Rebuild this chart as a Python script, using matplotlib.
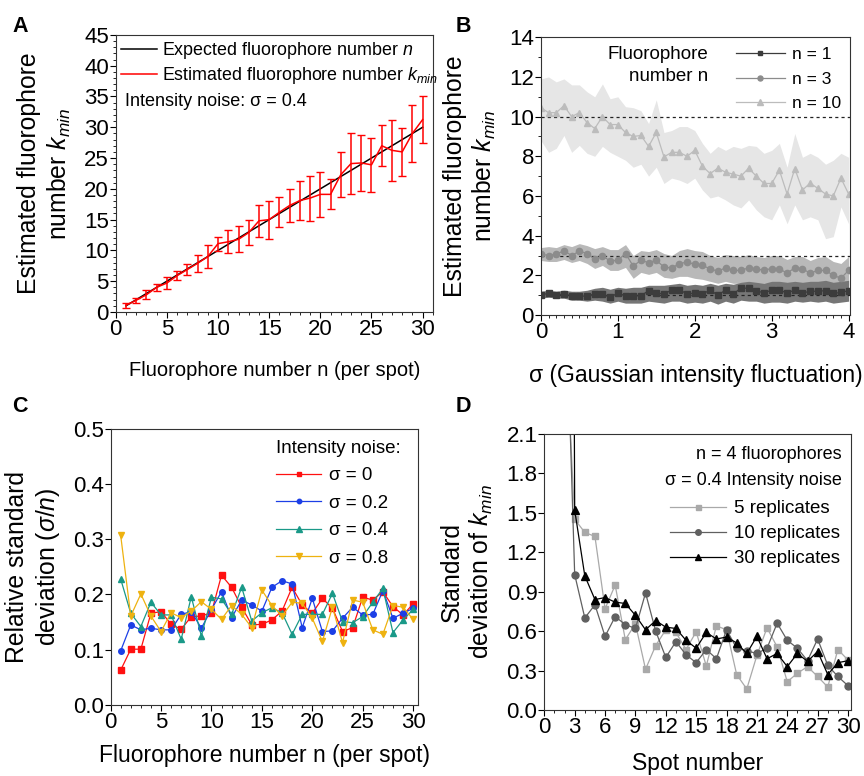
import matplotlib
matplotlib.use("Agg")
import matplotlib.pyplot as plt
from matplotlib.ticker import MultipleLocator, FormatStrFormatter

plt.rcParams["font.family"] = ["Liberation Sans", "DejaVu Sans"]
plt.rcParams["mathtext.fontset"] = "custom"
plt.rcParams["mathtext.rm"] = "Liberation Sans"
plt.rcParams["mathtext.it"] = "Liberation Sans:italic"

# ---- panel A data ----
a_n = list(range(1, 31))
a_kmin = [1.1, 1.9, 2.8, 4.0, 4.7, 5.9, 6.9, 7.9, 9.0, 11.1, 11.4, 11.8, 12.9, 14.8, 15.0,
          16.2, 17.3, 18.1, 18.5, 19.1, 19.1, 22.3, 24.1, 24.2, 23.9, 27.0, 26.25, 26.0, 29.0, 31.25]
a_err = [0.4, 0.4, 0.7, 0.6, 1.0, 0.75, 0.95, 1.35, 1.9, 1.15, 1.85, 2.1, 2.1, 2.65, 3.1,
         2.4, 2.75, 3.1, 3.65, 3.65, 2.45, 3.65, 5.0, 4.6, 4.4, 3.3, 5.0, 3.95, 4.65, 3.8]

# ---- panel B data ----
b_sigma = [round(0.1 * i, 1) for i in range(41)]
b_n1 = [1.02, 1.09, 1.0, 1.06, 0.97, 0.94, 0.97, 1.06, 1.06, 0.89, 1.11, 0.97, 0.97, 0.97, 1.23,
        1.11, 1.06, 1.26, 1.28, 1.06, 1.11, 1.06, 1.26, 1.0, 1.26, 1.06, 1.36, 1.35, 1.23, 1.11,
        1.26, 1.26, 1.11, 1.26, 1.11, 1.2, 1.2, 1.23, 1.09, 1.14, 1.23]
b_n1_up = [1.2, 1.25, 1.2, 1.25, 1.2, 1.2, 1.25, 1.35, 1.4, 1.3, 1.4, 1.35, 1.4, 1.4, 1.5,
           1.5, 1.5, 1.55, 1.6, 1.5, 1.55, 1.5, 1.6, 1.5, 1.6, 1.55, 1.65, 1.7, 1.65, 1.6,
           1.7, 1.7, 1.65, 1.7, 1.65, 1.7, 1.7, 1.75, 1.65, 1.7, 1.75]
b_n1_lo = [0.85, 0.9, 0.85, 0.85, 0.75, 0.75, 0.7, 0.75, 0.7, 0.6, 0.7, 0.6, 0.6, 0.6, 0.7,
           0.65, 0.6, 0.7, 0.7, 0.6, 0.65, 0.6, 0.7, 0.55, 0.7, 0.6, 0.75, 0.7, 0.7, 0.6,
           0.65, 0.65, 0.6, 0.7, 0.65, 0.7, 0.65, 0.7, 0.6, 0.65, 0.7]
b_n3 = [3.07, 3.0, 3.07, 3.24, 3.0, 3.22, 3.1, 2.81, 2.98, 2.73, 2.76, 3.1, 2.47, 2.76, 2.64,
        2.76, 2.42, 2.37, 2.59, 2.67, 2.56, 2.5, 2.33, 2.21, 2.38, 2.25, 2.25, 2.38, 2.3, 2.28,
        2.33, 2.33, 2.11, 2.38, 2.33, 2.11, 2.25, 2.25, 2.0, 1.86, 2.25]
b_n3_up = [3.4, 3.45, 3.4, 3.55, 3.45, 3.6, 3.5, 3.35, 3.45, 3.3, 3.3, 3.55, 3.0, 3.25, 3.2,
           3.3, 3.1, 3.0, 3.25, 3.35, 3.25, 3.2, 3.0, 2.9, 3.05, 3.0, 2.95, 3.05, 2.95, 2.9,
           3.0, 3.0, 2.8, 2.95, 2.95, 2.75, 2.9, 2.95, 2.7, 2.6, 2.95]
b_n3_lo = [2.75, 2.7, 2.7, 2.8, 2.65, 2.75, 2.6, 2.35, 2.5, 2.25, 2.25, 2.4, 1.85, 2.15, 2.05,
           2.15, 1.9, 1.85, 1.95, 1.95, 1.85, 1.8, 1.7, 1.6, 1.7, 1.6, 1.6, 1.65, 1.6, 1.6,
           1.6, 1.6, 1.5, 1.6, 1.6, 1.5, 1.55, 1.55, 1.45, 1.35, 1.5]
b_n10 = [10.45, 10.2, 10.2, 10.55, 10.0, 10.2, 9.7, 9.4, 10.0, 9.6, 9.6, 9.2, 9.0, 9.05, 8.5,
         9.2, 7.97, 8.2, 8.2, 8.0, 8.3, 7.5, 7.13, 7.4, 7.2, 7.1, 7.0, 7.4, 7.0, 6.63,
         6.63, 7.3, 6.1, 7.38, 6.3, 6.65, 6.38, 6.1, 6.0, 6.9, 6.1]
b_n10_up = [11.9, 12.0, 11.75, 11.9, 11.6, 11.6, 11.25, 11.0, 11.65, 10.9, 11.0, 10.5, 10.45, 10.3, 9.65,
            10.85, 9.2, 9.3, 9.5, 9.5, 9.3, 8.65, 8.15, 8.5, 8.3, 8.5, 8.4, 8.55, 8.5, 8.15,
            8.3, 8.65, 7.45, 9.15, 7.95, 8.15, 7.95, 7.6, 7.8, 8.15, 7.95]
b_n10_lo = [8.8, 8.2, 8.4, 9.05, 8.2, 8.55, 8.15, 8.0, 8.5, 8.2, 8.0, 7.8, 7.45, 7.6, 7.0,
            7.45, 6.63, 6.9, 6.8, 6.63, 6.9, 6.3, 5.9, 6.0, 5.8, 5.55, 5.4, 5.8, 5.3, 4.95,
            4.8, 5.55, 4.6, 5.55, 4.8, 4.95, 4.8, 3.85, 3.95, 5.45, 4.6]

# ---- panel C data ----
c_n = list(range(1, 31))
c_s0 = [0.063, 0.101, 0.101, 0.166, 0.169, 0.146, 0.137, 0.160, 0.161, 0.167, 0.235, 0.213, 0.177, 0.145, 0.146,
        0.154, 0.170, 0.213, 0.181, 0.166, 0.193, 0.175, 0.133, 0.140, 0.195, 0.190, 0.205, 0.178, 0.163, 0.183]
c_s02 = [0.098, 0.145, 0.136, 0.139, 0.136, 0.136, 0.164, 0.169, 0.139, 0.173, 0.205, 0.158, 0.190, 0.181, 0.170,
         0.213, 0.225, 0.219, 0.140, 0.193, 0.133, 0.134, 0.157, 0.177, 0.163, 0.164, 0.207, 0.157, 0.166, 0.175]
c_s04 = [0.228, 0.166, 0.142, 0.186, 0.163, 0.163, 0.119, 0.196, 0.125, 0.195, 0.192, 0.164, 0.213, 0.152, 0.167,
         0.176, 0.167, 0.128, 0.164, 0.164, 0.164, 0.202, 0.151, 0.149, 0.160, 0.186, 0.211, 0.131, 0.154, 0.173]
c_s08 = [0.307, 0.161, 0.201, 0.161, 0.133, 0.167, 0.158, 0.170, 0.187, 0.173, 0.155, 0.180, 0.164, 0.140, 0.208,
         0.180, 0.161, 0.186, 0.184, 0.157, 0.115, 0.177, 0.113, 0.190, 0.186, 0.136, 0.128, 0.180, 0.177, 0.155]

# ---- panel D data ----
d_spot = list(range(2, 31))
d_rep5 = [3.0, 1.45, 1.35, 1.32, 0.77, 0.95, 0.535, 0.655, 0.31, 0.49, 0.61, 0.59, 0.46, 0.595, 0.335,
          0.64, 0.61, 0.27, 0.16, 0.415, 0.625, 0.48, 0.215, 0.28, 0.33, 0.255, 0.175, 0.46, 0.38]
d_rep10 = [3.5, 1.03, 0.70, 0.80, 0.56, 0.71, 0.65, 0.62, 0.89, 0.60, 0.40, 0.52, 0.42, 0.36, 0.46,
           0.39, 0.61, 0.47, 0.45, 0.43, 0.47, 0.66, 0.53, 0.47, 0.375, 0.54, 0.34, 0.255, 0.185]
d_rep30 = [20.0, 1.52, 1.02, 0.84, 0.855, 0.82, 0.81, 0.72, 0.61, 0.68, 0.63, 0.62, 0.53, 0.47, 0.59,
           0.54, 0.555, 0.51, 0.43, 0.56, 0.39, 0.43, 0.33, 0.43, 0.37, 0.445, 0.27, 0.36, 0.375]

TICK = 16
YLAB = 17.8
XLAB = 16.5

fig = plt.figure(figsize=(8.64, 7.76), dpi=100)
axA = fig.add_axes([0.134, 0.598, 0.367, 0.357])
axB = fig.add_axes([0.626, 0.594, 0.358, 0.358])
axC = fig.add_axes([0.128, 0.0915, 0.356, 0.356])
axD = fig.add_axes([0.630, 0.085, 0.355, 0.356])


def style(ax):
    ax.tick_params(which="major", direction="out", length=4, width=0.8, labelsize=TICK, pad=1)
    ax.tick_params(which="minor", direction="out", length=2, width=0.6)
    ax.tick_params(top=False, right=False)
    for s in ax.spines.values():
        s.set_linewidth(0.8)
        s.set_color("#333333")


# A
axA.plot(a_n, a_n, color="black", lw=1.1)
axA.errorbar(a_n, a_kmin, yerr=a_err, color="red", lw=1.1, elinewidth=1.1, capsize=3)
axA.set_xlim(0, 31)
axA.set_ylim(0, 45)
axA.xaxis.set_major_locator(MultipleLocator(5))
axA.xaxis.set_minor_locator(MultipleLocator(1))
axA.yaxis.set_major_locator(MultipleLocator(5))
axA.yaxis.set_minor_locator(MultipleLocator(1))
style(axA)
hA = [plt.Line2D([], [], color="black", lw=1.1), plt.Line2D([], [], color="red", lw=1.1)]
lA = ["Expected fluorophore number $n$", "Estimated fluorophore number $k_{min}$"]
axA.legend(hA, lA, loc="upper left", fontsize=12.9, frameon=False, handlelength=2.0,
           borderaxespad=0.0, labelspacing=0.2, handletextpad=0.3, borderpad=0.3)
axA.text(0.03, 0.745, "Intensity noise: σ = 0.4", transform=axA.transAxes, fontsize=13)
axA.set_xlabel("Fluorophore number n (per spot)", fontsize=14.5, labelpad=15)
axA.set_ylabel("Estimated fluorophore\nnumber $k_{min}$", fontsize=YLAB, labelpad=8)

# B
axB.fill_between(b_sigma, b_n10_lo, b_n10_up, color="#e6e6e6", lw=0)
axB.fill_between(b_sigma, b_n3_lo, b_n3_up, color="#b9b9b9", lw=0)
axB.fill_between(b_sigma, b_n1_lo, b_n1_up, color="#767676", lw=0)
for lvl in (1, 3, 10):
    axB.axhline(lvl, color="#222222", lw=0.9, ls=(0, (2.5, 2.5)))
axB.plot(b_sigma, b_n1, color="#3c3c3c", marker="s", ms=4, lw=0.9, label="n = 1")
axB.plot(b_sigma, b_n3, color="#8c8c8c", marker="o", ms=4.5, lw=0.9, label="n = 3")
axB.plot(b_sigma, b_n10, color="#bcbcbc", marker="^", ms=5, lw=0.9, label="n = 10")
axB.set_xlim(0, 4.02)
axB.set_ylim(0, 14)
axB.xaxis.set_major_locator(MultipleLocator(1))
axB.xaxis.set_minor_locator(MultipleLocator(0.1))
axB.yaxis.set_major_locator(MultipleLocator(2))
axB.yaxis.set_minor_locator(MultipleLocator(1))
style(axB)
axB.legend(loc="upper right", fontsize=12.5, frameon=False, handlelength=2.8,
           borderaxespad=0.15, labelspacing=0.55, handletextpad=0.4, markerscale=0.8)
axB.text(0.54, 0.97, "Fluorophore\nnumber n", transform=axB.transAxes, fontsize=13.5,
         ha="right", va="top", linespacing=1.45)
axB.set_xlabel("σ (Gaussian intensity fluctuation)", fontsize=XLAB, labelpad=15)
axB.set_ylabel("Estimated fluorophore\nnumber $k_{min}$", fontsize=YLAB, labelpad=8)

# C
axC.plot(c_n, c_s0, color="#ff1010", marker="s", ms=4, lw=0.9, label="σ = 0")
axC.plot(c_n, c_s02, color="#1c3fe6", marker="o", ms=4, lw=0.9, label="σ = 0.2")
axC.plot(c_n, c_s04, color="#1a9988", marker="^", ms=5, lw=0.9, label="σ = 0.4")
axC.plot(c_n, c_s08, color="#eeb210", marker="v", ms=5, lw=0.9, label="σ = 0.8")
axC.set_xlim(0, 30.5)
axC.set_ylim(0, 0.5)
axC.xaxis.set_major_locator(MultipleLocator(5))
axC.xaxis.set_minor_locator(MultipleLocator(1))
axC.yaxis.set_major_locator(MultipleLocator(0.1))
axC.yaxis.set_major_formatter(FormatStrFormatter("%.1f"))
style(axC)
legC = axC.legend(loc="upper right", fontsize=13.5, frameon=False, title="Intensity noise:",
                  title_fontsize=13.5, handlelength=2.4, borderaxespad=0.2, labelspacing=0.55,
                  handletextpad=0.4, markerscale=0.8, bbox_to_anchor=(0.98, 1.0))
legC._legend_box.align = "left"
axC.set_xlabel("Fluorophore number n (per spot)", fontsize=XLAB, labelpad=8)
axC.set_ylabel("Relative standard\ndeviation ($\\sigma/n$)", fontsize=YLAB, labelpad=8)

# D
axD.plot(d_spot, d_rep5, color="#a9a9a9", marker="s", ms=4.5, lw=0.9, label="5 replicates")
axD.plot(d_spot, d_rep10, color="#606060", marker="o", ms=5, lw=0.9, label="10 replicates")
axD.plot(d_spot, d_rep30, color="black", marker="^", ms=6, lw=0.9, label="30 replicates")
axD.set_xlim(0, 30.3)
axD.set_ylim(0, 2.1)
axD.xaxis.set_major_locator(MultipleLocator(3))
axD.xaxis.set_minor_locator(MultipleLocator(1))
axD.yaxis.set_major_locator(MultipleLocator(0.3))
axD.yaxis.set_major_formatter(FormatStrFormatter("%.1f"))
style(axD)
axD.legend(loc="upper right", fontsize=13.5, frameon=False, handlelength=3.0,
           borderaxespad=0.2, labelspacing=0.42, handletextpad=0.4, markerscale=0.8,
           bbox_to_anchor=(1.0, 0.8))
axD.text(0.97, 0.955, "n = 4 fluorophores", transform=axD.transAxes, fontsize=13,
         ha="right", va="top")
axD.text(0.97, 0.86, "σ = 0.4 Intensity noise", transform=axD.transAxes, fontsize=13,
         ha="right", va="top")
axD.set_xlabel("Spot number", fontsize=XLAB, labelpad=10)
axD.set_ylabel("Standard\ndeviation of $k_{min}$", fontsize=YLAB, labelpad=8)

for lab, x, y in [("A", 0.014, 0.98), ("B", 0.527, 0.98), ("C", 0.014, 0.49), ("D", 0.527, 0.49)]:
    fig.text(x, y, lab, fontsize=15.5, fontweight="bold", ha="left", va="top")

fig.savefig("out.png", dpi=100)
